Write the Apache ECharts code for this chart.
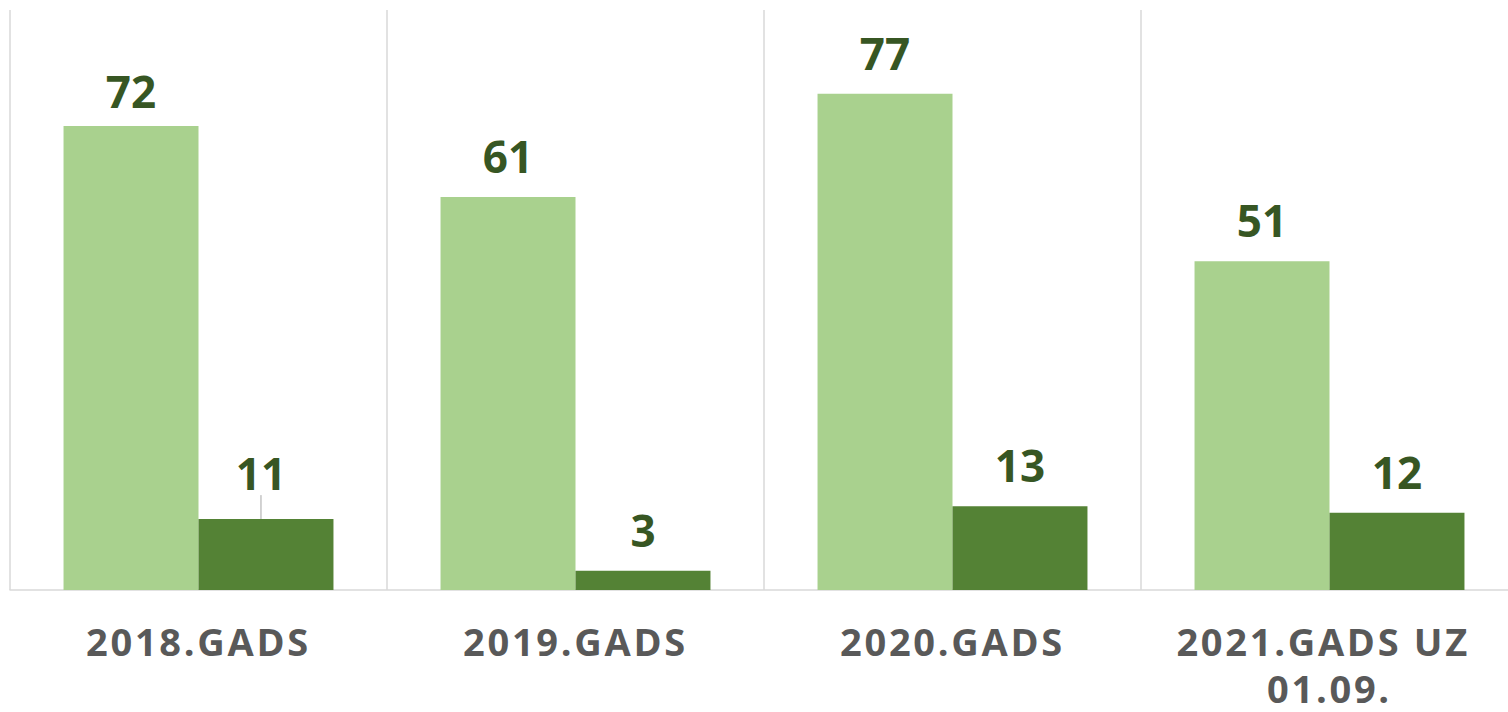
<!DOCTYPE html>
<html>
<head>
<meta charset="utf-8">
<script src="https://cdn.jsdelivr.net/npm/echarts@6/dist/echarts.min.js"></script>
<style>
html,body{margin:0;padding:0;background:#fff;}
#chart{width:1508px;height:712px;}
</style>
</head>
<body>
<div id="chart"></div>
<script>
var categories = ["2018.GADS", "2019.GADS", "2020.GADS", "2021.GADS UZ 01.09."];
var seriesA = [72, 61, 77, 51];
var seriesB = [11, 3, 13, 12];

var chart = echarts.init(document.getElementById('chart'), null, {renderer: 'svg'});
var labelStyle = {
  show: true,
  position: 'top',
  distance: 19,
  color: '#375623',
  fontFamily: 'Open Sans',
  fontWeight: 'bold',
  fontSize: 44
};
chart.setOption({
  animation: false,
  grid: {left: 10, top: 10, width: 1508, height: 580, containLabel: false, outerBoundsMode: 'none'},
  xAxis: {
    type: 'category',
    data: categories,
    axisLine: {show: true, lineStyle: {color: '#d9d9d9', width: 1.5}},
    axisTick: {show: false},
    splitLine: {show: true, interval: 0, lineStyle: {color: '#d9d9d9', width: 1.5}},
    axisLabel: {
      interval: 0,
      margin: 27,
      color: '#595959',
      fontFamily: 'Open Sans',
      fontWeight: 'bold',
      fontSize: 38,
      lineHeight: 47,
      width: 360,
      overflow: 'break'
    }
  },
  yAxis: {
    type: 'value', min: 0, max: 90, show: false,
    splitLine: {show: false}
  },
  series: [
    {
      name: 'A', type: 'bar', data: seriesA,
      barGap: '0%', barCategoryGap: '28.4%',
      itemStyle: {color: '#a9d18e'},
      label: labelStyle,
      labelLayout: function (p) { return p.dataIndex === 0 ? {dy: 6} : {}; }
    },
    {
      name: 'B', type: 'bar',
      data: seriesB.map(function (v, i) {
        return i === 0 ? {value: v, labelLine: {show: true, lineStyle: {color: '#a6a6a6', width: 1}}} : v;
      }),
      barGap: '0%', barCategoryGap: '28.4%',
      itemStyle: {color: '#548235'},
      label: labelStyle,
      labelLayout: function (p) { return p.dataIndex === 0 ? {dx: -5, dy: -5} : {}; },
      labelLine: {show: false}
    }
  ]
});

// letter spacing for category labels (Excel-style spaced axis text)
setTimeout(function () {
  var texts = document.querySelectorAll('#chart text');
  texts.forEach(function (t) {
    if (t.getAttribute('fill') === '#595959' || (t.style && t.style.fill === 'rgb(89, 89, 89)')) {
      t.setAttribute('letter-spacing', '2.7');
    }
  });
}, 0);
</script>
</body>
</html>
